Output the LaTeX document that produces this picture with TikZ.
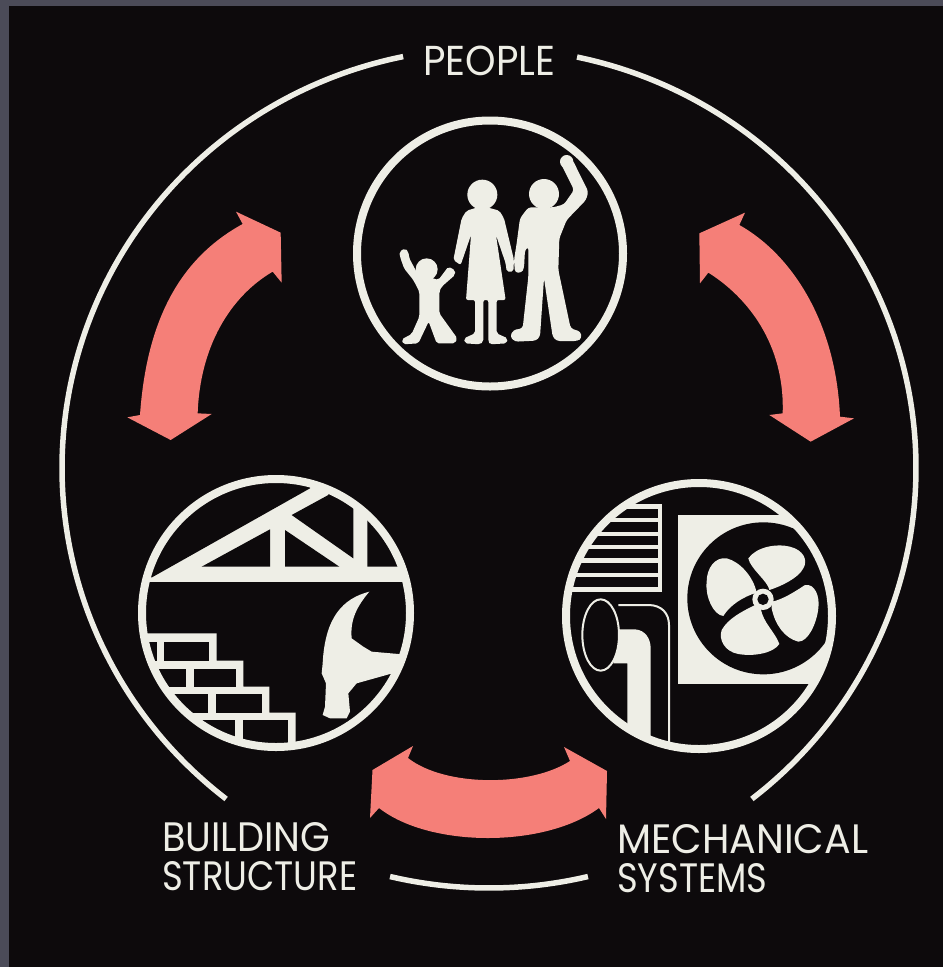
\documentclass[tikz,border=0pt]{standalone}
\usepackage{fontspec}
\usepackage{graphicx}
\setmainfont{Poppins}
\definecolor{ink}{HTML}{0D0A0C}
\definecolor{paper}{HTML}{EEEEE6}
\definecolor{salmon}{HTML}{F57F78}
\definecolor{strip}{HTML}{4B4B58}
\tikzset{
  ringnode/.style={circle,draw=paper,line width=8pt,inner sep=0pt,minimum size=#1},
  label/.style={inner sep=0pt,anchor=south west,text=paper},
  bigarc/.style={draw=paper,line width=5.5pt,smooth},
  arrowshape/.style={fill=salmon},
  w/.style={fill=paper},
  k/.style={fill=ink},
}
\begin{document}
\begin{tikzpicture}[x=1pt,y=-1pt]
\useasboundingbox (0,0) rectangle (943,967);
\fill[strip] (0,0) rectangle (943,967);
\fill[ink] (9,6) rectangle (943,967);

% outer ring arcs
\draw[bigarc] plot[domain=-78.1:52,samples=90] ({489+427*cos(\x)},{468+420*sin(\x)});
\draw[bigarc] plot[domain=128:258.4,samples=90] ({489+427*cos(\x)},{468+420*sin(\x)});
\draw[bigarc] plot[domain=76.6:103.4,samples=30] ({489+427*cos(\x)},{468+420*sin(\x)});

% labels
\node[label] (people) at (423,76) {\resizebox{132pt}{29.5pt}{PEOPLE}};
\node[label] (building) at (162,852) {\resizebox{168pt}{29pt}{BUILDING}};
\node[label] (structure) at (162,891) {\resizebox{195pt}{29pt}{STRUCTURE}};
\node[label] (mechanical) at (617,854) {\resizebox{251pt}{29pt}{MECHANICAL}};
\node[label] (systems) at (617,893) {\resizebox{150pt}{29pt}{SYSTEMS}};

% arrows
\begin{scope}[shift={(120,200)},scale=1/3]
\fill[arrowshape] (348,35) -- (482,98) -- (485,248) -- (458,215)
  .. controls (330,290) and (240,440) .. (233,640)
  -- (275,642) -- (152,720) -- (22,652) -- (60,645)
  .. controls (80,360) and (180,175) .. (368,72) -- cycle;
\end{scope}
\begin{scope}[shift={(690,200)},scale=1/3]
\fill[arrowshape] (165,38) -- (28,100) -- (30,250) -- (55,218)
  .. controls (170,290) and (285,430) .. (278,640)
  -- (238,645) -- (362,725) -- (492,655) -- (450,650)
  .. controls (438,360) and (300,160) .. (148,75) -- cycle;
\end{scope}
\fill[arrowshape] (413,746) -- (372.5,770) -- (370,818) -- (379,808)
  .. controls (430,848) and (545,848) .. (599,808)
  -- (606,819) -- (607,771) -- (564,747) -- (570,761)
  .. controls (530,787) and (445,787) .. (408,758) -- cycle;

% people
\begin{scope}[shift={(340,110)},scale=1/3]
\fill[w] (612,252) circle (45);
\fill[w] (680,155) circle (20);
\fill[w,rounded corners=3pt] (540,325) -- (565,292) -- (640,292) -- (672,283) -- (702,240) -- (662,160) -- (698,150) -- (745,245) -- (738,270) -- (680,330) -- (658,385) -- (655,480) -- (692,655) -- (722,665) -- (725,685) -- (712,693) -- (650,693) -- (638,680) -- (612,505) -- (600,680) -- (588,692) -- (525,695) -- (510,680) -- (520,660) -- (548,655) -- (565,500) -- (565,410) -- (555,420) -- (552,475) -- (545,488) -- (525,488) -- (522,450) -- (530,400) -- cycle;
\fill[w] (427,254) circle (45);
\fill[w,rounded corners=2pt] (365,325) -- (380,302) -- (410,293) -- (445,293) -- (478,302) -- (492,325) -- (522,450) -- (520,485) -- (500,485) -- (497,460) -- (468,375) -- (497,570) -- (470,570) -- (470,670) -- (503,685) -- (500,700) -- (450,703) -- (445,695) -- (445,570) -- (430,570) -- (430,695) -- (420,703) -- (375,700) -- (372,685) -- (405,670) -- (405,570) -- (378,570) -- (393,375) -- (362,465) -- (340,450) -- cycle;
\fill[w] (260,478) circle (33);
\fill[w,rounded corners=2pt] (178,425) -- (195,415) -- (205,425) -- (208,445) -- (232,490) -- (295,510) -- (325,470) -- (345,480) -- (345,495) -- (305,530) -- (298,545) -- (298,610) -- (352,685) -- (345,700) -- (290,700) -- (266,635) -- (235,700) -- (190,703) -- (185,688) -- (215,672) -- (238,620) -- (238,545) -- (220,510) -- (192,475) -- (180,440) -- cycle;
\end{scope}
\node[ringnode=266pt] (peoplering) at (490,253.5) {};

% building
\begin{scope}[shift={(130,470)},scale=1/3]
\clip (438,429) circle (400);
\fill[w] (0,0) rectangle (900,335);
\fill[k] (66,322) -- (540,55) -- (540,0) -- (0,0) -- (0,322) -- cycle;
\fill[k] (215,290) -- (420,178) -- (420,290) -- cycle;
\fill[k] (465,180) -- (628,290) -- (465,290) -- cycle;
\fill[k] (485,135) -- (595,75) -- (595,0) -- (670,0) -- (670,265) -- cycle;
\fill[k] (712,100) -- (860,290) -- (712,290) -- cycle;
% hammer
\fill[w] (718,365) .. controls (640,385) and (585,440) .. (578,580) -- (575,610) -- (588,640) -- (585,710) -- (578,735) -- (600,745) -- (650,745) -- (660,725) -- (655,670) -- (680,640) -- (780,612) -- (840,600) -- (840,555) -- (725,545) -- (700,530) -- (665,505) .. controls (660,450) and (680,410) .. (718,365) -- cycle;
% bricks
\fill[w] (0,490) -- (260,490) -- (260,572) -- (340,572) -- (340,650) -- (418,650) -- (418,728) -- (497,728) -- (497,900) -- (0,900) -- cycle;
\fill[k] (0,517) rectangle (80,572);
\fill[k] (103,517) rectangle (238,572);
\fill[k] (0,597) rectangle (167,650);
\fill[k] (192,597) rectangle (317,650);
\fill[k] (0,672) rectangle (235,728);
\fill[k] (258,672) rectangle (395,728);
\fill[k] (0,750) rectangle (315,850);
\fill[k] (340,750) rectangle (475,850);
\end{scope}
\node[ringnode=268pt] (buildingring) at (276,613) {};

% mechanical
\begin{scope}[shift={(550,470)},scale=1/3]
\clip (447,438) circle (400);
% louvre
\fill[w] (0,103) rectangle (335,365);
\foreach \a/\b in {117/143,157/185,197/225,238/265,280/308,322/350}
  \fill[k] (0,\a) rectangle (323,\b);
% pipe
\fill[w] (190,478) -- (255,478) .. controls (285,480) and (302,505) .. (302,535) -- (302,830) -- (232,830) -- (232,580) -- (190,580) -- cycle;
\draw[draw=paper,line width=2pt] (205,405) -- (295,405) .. controls (335,405) and (357,430) .. (357,465) -- (357,830);
\draw[draw=paper,fill=ink,line width=2pt] (152,495) ellipse [x radius=55,y radius=107];
% unit
\fill[w] (383,135) -- (900,135) -- (900,642) -- (383,642) -- cycle;
\fill[k] (640,385) circle (228);
\end{scope}
\begin{scope}[shift={(700,540)},scale=1/3]
\fill[w] (145,55) .. controls (170,20) and (230,10) .. (270,20) .. controls (310,30) and (325,60) .. (310,85) .. controls (295,115) and (240,140) .. (208,150) .. controls (205,125) and (150,85) .. (145,55) -- cycle;
\fill[w] (215,185) .. controls (245,180) and (285,155) .. (315,135) .. controls (345,130) and (360,170) .. (355,205) .. controls (350,250) and (325,305) .. (295,305) .. controls (255,295) and (225,255) .. (215,205) -- cycle;
\fill[w] (182,205) .. controls (190,250) and (225,275) .. (238,312) .. controls (220,340) and (160,350) .. (115,342) .. controls (75,335) and (55,300) .. (65,270) .. controls (85,235) and (125,215) .. (165,195) -- cycle;
\fill[w] (20,125) .. controls (20,85) and (45,50) .. (80,55) .. controls (120,65) and (160,110) .. (170,158) .. controls (130,170) and (90,195) .. (70,228) .. controls (40,225) and (15,170) .. (20,125) -- cycle;
\fill[w] (189,178) circle (32);
\fill[k] (189,178) circle (17);
\end{scope}
\node[ringnode=266pt] (mechring) at (699,616) {};
\end{tikzpicture}
\end{document}
